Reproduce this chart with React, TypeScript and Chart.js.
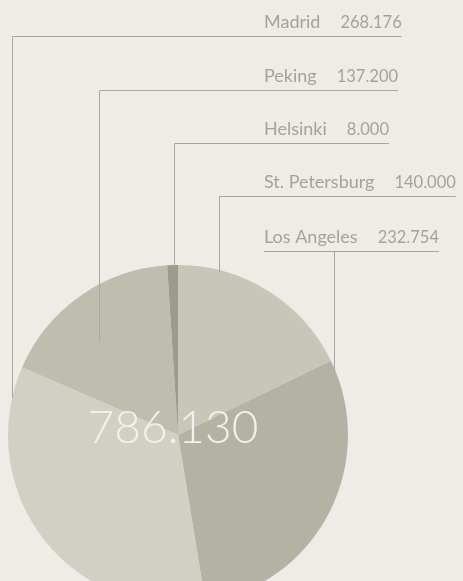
import React, { useEffect, useRef } from "react";
import { Chart, registerables } from "chart.js";

Chart.register(...registerables);

// Data (pie order, clockwise from 12 o'clock)
const categories = ["St. Petersburg", "Los Angeles", "Madrid", "Peking", "Helsinki"];
const values = [140000, 232754, 268176, 137200, 8000];
const sliceColors = ["#c7c6b9", "#b3b2a3", "#d1d0c5", "#bebdae", "#9c9c8a"];

// Callout layout (annotation positions, per category in pie order)
const calloutLineY = [196.5, 251.5, 36.5, 90.5, 143.5];
const calloutStemX = [219.5, 334.5, 12.5, 99.5, 174.5];
const calloutStemEnd: (number | "edge")[] = ["edge", "edge", "edge", 341, "edge"];
const calloutTextX = 264;

const BG = "#edece7";
const LINE = "#aaa998";
const TEXT = "#a5a494";

const fmt = (v: number) => v.toLocaleString("de-DE");

const calloutPlugin = {
  id: "callouts",
  afterDatasetsDraw(chart: any) {
    const ctx = chart.ctx as CanvasRenderingContext2D;
    const meta = chart.getDatasetMeta(0);
    const arc = meta.data[0] as any;
    const cx = arc.x;
    const cy = arc.y;
    const r = arc.outerRadius;
    const data = chart.data.datasets[0].data as number[];
    const labels = chart.data.labels as string[];
    ctx.save();
    ctx.textBaseline = "alphabetic";
    ctx.textAlign = "left";
    labels.forEach((lab, i) => {
      const ly = calloutLineY[i];
      const sx = calloutStemX[i];
      ctx.font = "18px Lato";
      const nameW = ctx.measureText(lab).width;
      ctx.fillStyle = TEXT;
      ctx.fillText(lab, calloutTextX, ly - 8.5);
      const numStr = fmt(data[i]);
      const numX = calloutTextX + nameW + 20;
      ctx.font = "16.5px Lato";
      const numW = ctx.measureText(numStr).width;
      ctx.fillText(numStr, numX, ly - 8.5);
      const textEnd = numX + numW;
      // lines
      let endY: number;
      const se = calloutStemEnd[i];
      if (se === "edge") {
        const dx = sx - cx;
        endY = cy - Math.sqrt(Math.max(r * r - dx * dx, 0)) + 2;
      } else endY = se;
      ctx.strokeStyle = LINE;
      ctx.lineWidth = 1;
      ctx.beginPath();
      ctx.moveTo(Math.min(sx, calloutTextX), ly);
      ctx.lineTo(Math.max(sx, textEnd), ly);
      ctx.moveTo(sx, ly);
      ctx.lineTo(sx, endY);
      ctx.stroke();
    });
    // center total
    const total = data.reduce((a, b) => a + b, 0);
    ctx.font = "300 46px Lato";
    ctx.fillStyle = "#f2f1eb";
    ctx.textAlign = "center";
    ctx.fillText(fmt(total), cx - 5, cy + 8);
    ctx.restore();
  },
};

export default function App() {
  const ref = useRef<HTMLCanvasElement>(null);
  useEffect(() => {
    document.body.style.margin = "0";
    document.body.style.background = BG;
    const chart = new Chart(ref.current!, {
      type: "pie",
      data: {
        labels: categories,
        datasets: [
          {
            data: values,
            backgroundColor: sliceColors,
            borderWidth: 0,
            hoverOffset: 0,
          },
        ],
      },
      options: {
        responsive: false,
        animation: false,
        events: [],
        layout: { padding: { left: 8, right: 115, top: 265, bottom: 15 } },
        plugins: { legend: { display: false }, tooltip: { enabled: false } },
      },
      plugins: [calloutPlugin],
    });
    return () => chart.destroy();
  }, []);
  return (
    <div style={{ width: 463, height: 581, overflow: "hidden", background: BG }}>
      <canvas ref={ref} width={463} height={620} style={{ display: "block" }} />
    </div>
  );
}
